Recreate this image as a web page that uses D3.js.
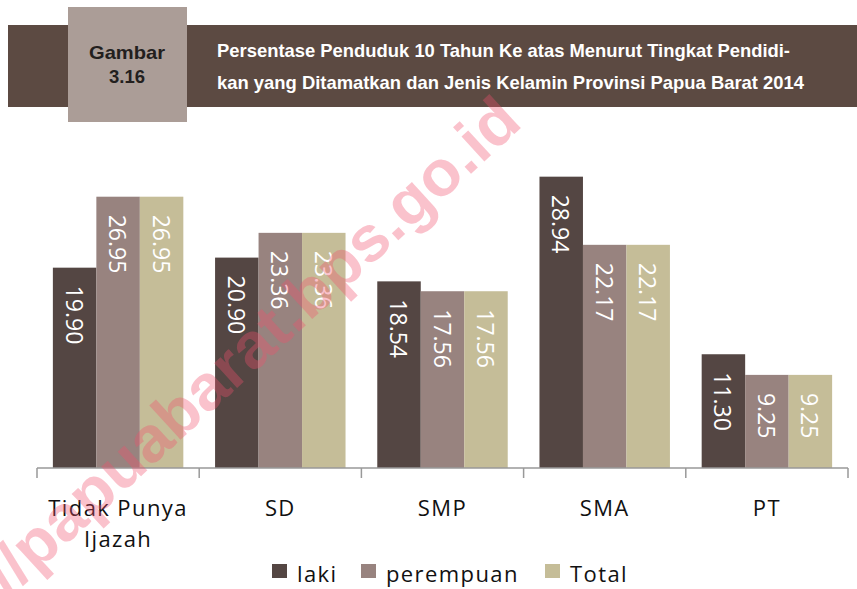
<!DOCTYPE html>
<html>
<head>
<meta charset="utf-8">
<script src="https://cdn.jsdelivr.net/npm/d3@7/dist/d3.min.js"></script>
<style>
  html, body { margin: 0; padding: 0; background: #fff; }
  svg { display: block; }
</style>
</head>
<body>
<svg id="chart" width="857" height="589"></svg>
<script>
const categories = ["Tidak Punya|Ijazah", "SD", "SMP", "SMA", "PT"];
const seriesNames = ["laki", "perempuan", "Total"];
const laki = [19.90, 20.90, 18.54, 28.94, 11.30];
const perempuan = [26.95, 23.36, 17.56, 22.17, 9.25];
const total = [26.95, 23.36, 17.56, 22.17, 9.25];
const seriesColors = ["#544643", "#98837f", "#c5bd98"];
const titleLines = [
  "Persentase Penduduk 10 Tahun Ke atas Menurut Tingkat Pendidi-",
  "kan yang Ditamatkan dan Jenis Kelamin Provinsi Papua Barat 2014"
];
const figLabel = ["Gambar", "3.16"];
const watermark = "//papuabarat.bps.go.id";

const seriesValues = [laki, perempuan, total];
const svg = d3.select("#chart");

// Header
svg.append("rect").attr("x", 8).attr("y", 25).attr("width", 849).attr("height", 82).attr("fill", "#5c4a42");
svg.append("rect").attr("x", 68).attr("y", 7).attr("width", 119).attr("height", 115).attr("fill", "#ab9d97");
svg.selectAll("text.fig").data(figLabel).join("text")
  .attr("class", "fig")
  .attr("x", 127).attr("y", (d, i) => 59 + i * 24)
  .attr("text-anchor", "middle")
  .attr("font-family", "Liberation Sans, Arial, sans-serif")
  .attr("font-weight", "bold").attr("font-size", 19)
  .attr("fill", "#231f1e")
  .attr("textLength", (d, i) => i === 0 ? 76 : 36)
  .attr("lengthAdjust", "spacingAndGlyphs")
  .text(d => d);
svg.selectAll("text.title").data(titleLines).join("text")
  .attr("class", "title")
  .attr("x", 217).attr("y", (d, i) => 57 + i * 32)
  .attr("font-family", "Liberation Sans, Arial, sans-serif")
  .attr("font-weight", "bold").attr("font-size", 19)
  .attr("fill", "#ffffff")
  .attr("textLength", (d, i) => i === 0 ? 573 : 587)
  .attr("lengthAdjust", "spacingAndGlyphs")
  .text(d => d);

// Scales
const x0 = d3.scaleBand().domain(categories).range([37, 848]).paddingInner(0).paddingOuter(0);
const x1 = d3.scaleBand().domain(seriesNames).range([0, x0.bandwidth()]).paddingInner(0).paddingOuter(0.365);
const y = d3.scaleLinear().domain([0, 30]).range([468, 166]);

// Bars
const groups = svg.append("g").selectAll("g").data(categories).join("g")
  .attr("transform", d => `translate(${x0(d)},0)`);

groups.each(function(cat, ci) {
  const g = d3.select(this);
  const data = seriesNames.map((s, si) => ({ s, si, v: seriesValues[si][ci] }));
  g.selectAll("rect").data(data).join("rect")
    .attr("x", d => x1(d.s))
    .attr("y", d => y(d.v))
    .attr("width", x1.bandwidth())
    .attr("height", d => y(0) - y(d.v))
    .attr("fill", d => seriesColors[d.si]);
  g.selectAll("text").data(data).join("text")
    .attr("transform", d => `translate(${x1(d.s) + x1.bandwidth() / 2},${y(d.v) + 18}) rotate(90)`)
    .attr("dominant-baseline", "central")
    .attr("font-family", "Open Sans, sans-serif")
    .attr("font-size", 23)
    .attr("fill", "#ffffff")
    .text(d => d.v.toFixed(2));
});

// Axis
const axisG = svg.append("g").attr("transform", `translate(0,${y(0)})`);
axisG.append("line").attr("x1", 37).attr("x2", 848).attr("y1", 0).attr("y2", 0)
  .attr("stroke", "#999").attr("stroke-width", 1.5);
const tickPos = categories.map(c => x0(c)).concat([x0(categories[categories.length - 1]) + x0.bandwidth()]);
axisG.selectAll("line.tick").data(tickPos).join("line")
  .attr("class", "tick")
  .attr("x1", d => d).attr("x2", d => d).attr("y1", 0).attr("y2", 10)
  .attr("stroke", "#999").attr("stroke-width", 1.5);

// Category labels
categories.forEach(c => {
  const lines = c.split("|");
  svg.append("text")
    .attr("x", x0(c) + x0.bandwidth() / 2)
    .attr("y", 516)
    .attr("text-anchor", "middle")
    .attr("font-family", "Open Sans, sans-serif")
    .attr("font-size", 22)
    .attr("letter-spacing", 1.4)
    .attr("fill", "#111")
    .selectAll("tspan").data(lines).join("tspan")
    .attr("x", x0(c) + x0.bandwidth() / 2)
    .attr("dy", (d, i) => i === 0 ? 0 : 31)
    .text(d => d);
});

// Legend
const legendX = [272, 361, 545];
const lg = svg.append("g").selectAll("g").data(seriesNames).join("g")
  .attr("transform", (d, i) => `translate(${legendX[i]},564)`);
lg.append("rect").attr("width", 15).attr("height", 14).attr("fill", (d, i) => seriesColors[i]);
lg.append("text").attr("x", 25).attr("y", 18)
  .attr("font-family", "Open Sans, sans-serif")
  .attr("font-size", 22)
  .attr("letter-spacing", 1.4)
  .attr("fill", "#111")
  .text(d => d);

// Watermark
svg.append("text")
  .attr("transform", "translate(8,598) rotate(-42.5)")
  .attr("font-family", "Liberation Sans, Arial, sans-serif")
  .attr("font-weight", "bold")
  .attr("font-size", 64)
  .attr("fill", "rgb(240,80,110)")
  .attr("fill-opacity", 0.35)
  .attr("textLength", 700)
  .attr("lengthAdjust", "spacingAndGlyphs")
  .text(watermark);
</script>
</body>
</html>
